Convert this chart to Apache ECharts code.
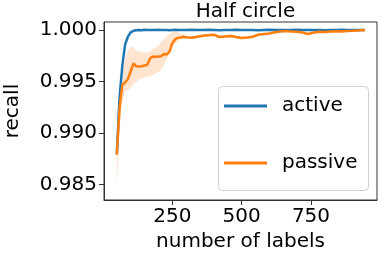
<!DOCTYPE html>
<html><head><meta charset="utf-8">
<script src="https://cdn.jsdelivr.net/npm/echarts@6/dist/echarts.min.js"></script>
<style>html,body{margin:0;padding:0;background:#fff}#c{width:384px;height:255px}</style>
</head><body><div id="c"></div>
<script>
const xs = [50,60,70,80,90,100,110,120,130,140,150,160,170,180,190,200,210,220,230,240,250,260,270,280,290,300,320,340,360,380,400,420,440,460,480,500,520,540,560,580,600,620,640,660,680,700,720,740,760,780,800,820,840,860,880,900,920,945];
const active = [0.9880,0.9935,0.9966,0.9986,0.99935,0.99978,0.99992,0.99997,1.00000,0.99998,1.00002,1.00000,1.00001,0.99999,1.00000,1.00002,0.99999,1.00000,1.00001,0.99998,1.00000,1.00002,1.00000,0.99999,1.00001,1.00000,1.00002,0.99999,1.00000,1.00002,1.00000,0.99998,1.00001,1.00000,1.00002,0.99999,1.00000,1.00001,0.99998,1.00000,1.00002,1.00000,0.99999,1.00001,1.00000,1.00002,1.00000,0.99999,1.00001,1.00000,0.99998,1.00001,1.00000,1.00002,1.00000,0.99999,1.00000,1.00000];
const passive = [0.9879,0.9925,0.9947,0.9949,0.99525,0.9960,0.99677,0.99648,0.99645,0.99648,0.99655,0.99662,0.99725,0.99742,0.99740,0.99742,0.99745,0.99768,0.99762,0.99790,0.99870,0.99910,0.99925,0.99928,0.99935,0.99930,0.99925,0.99935,0.99945,0.99950,0.99955,0.99932,0.99938,0.99942,0.99932,0.99922,0.99928,0.99935,0.99955,0.99962,0.99966,0.99978,0.99985,0.99990,0.99985,0.99982,0.99975,0.99962,0.99975,0.99982,0.99980,0.99985,0.99988,0.99986,0.99990,0.99992,0.99995,1.00000];
const passiveLow = [0.9845,0.9905,0.9930,0.9940,0.9942,0.9944,0.9948,0.9950,0.9952,0.9953,0.9954,0.9955,0.9955,0.9956,0.9958,0.9959,0.9962,0.9966,0.9972,0.9978,0.9983,0.9987,0.9989,0.99905,0.9991,0.99915,0.99912,0.99922,0.99932,0.99938,0.99943,0.99920,0.99926,0.99930,0.99920,0.99910,0.99916,0.99924,0.99944,0.99952,0.99956,0.99968,0.99976,0.99982,0.99977,0.99974,0.99967,0.99954,0.99967,0.99975,0.99973,0.99978,0.99981,0.99980,0.99984,0.99987,0.99990,0.99996];
const passiveHigh = [0.9888,0.9945,0.9962,0.9972,0.9980,0.9984,0.9983,0.9980,0.9979,0.9979,0.9978,0.9978,0.9979,0.9982,0.9983,0.9985,0.9989,0.9991,0.9994,0.9996,0.9998,0.9999,0.99985,0.9996,0.9996,0.99945,0.99938,0.99948,0.99958,0.99962,0.99967,0.99944,0.99950,0.99954,0.99944,0.99934,0.99940,0.99946,0.99966,0.99972,0.99976,0.99988,0.99994,0.99998,0.99993,0.99990,0.99983,0.99970,0.99983,0.99989,0.99987,0.99992,0.99995,0.99992,0.99996,0.99997,1.00000,1.00004];
const yTicks = [0.985,0.990,0.995,1.000];
const xTicks = [250,500,750];

const FONT = 'DejaVu Sans';
const chart = echarts.init(document.getElementById('c'), null, {renderer:'canvas'});
const pair = a => xs.map((x,i)=>[x,a[i]]);
const bandData = xs.map((x,i)=>[x,passiveLow[i],passiveHigh[i]]);
chart.setOption({
  animation:false,
  textStyle:{fontFamily:FONT},
  title:{text:'Half circle',left:240.5,top:-3,textAlign:'center',
    textStyle:{fontFamily:FONT,fontSize:20,fontWeight:'normal',color:'#000'}},
  grid:{left:104,right:7,top:22,bottom:55,show:true,borderColor:'#333',borderWidth:1,
    containLabel:false,outerBoundsMode:'none'},
  graphic:{elements:[{type:'rect',left:218,top:86,z:50,
    shape:{width:150,height:104,r:4},
    style:{fill:'rgba(255,255,255,0.8)',stroke:'#d0d0d0',lineWidth:1}}]},
  legend:{
    data:['active','passive'],orient:'vertical',left:218,top:86,z:60,
    icon:'rect',itemWidth:43,itemHeight:3,itemGap:37,
    padding:[10,4,18,6],
    textStyle:{fontFamily:FONT,fontSize:20,color:'#000',padding:[0,0,0,10]}
  },
  xAxis:{type:'value',min:3.8,max:988,
    name:'number of labels',nameLocation:'middle',nameGap:32,nameMoveOverlap:false,
    nameTextStyle:{fontFamily:FONT,fontSize:20,color:'#000'},
    axisLine:{show:true,lineStyle:{color:'#333'}},
    axisTick:{show:true,length:5,lineStyle:{color:'#333'},customValues:xTicks},
    axisLabel:{customValues:xTicks,fontFamily:FONT,fontSize:20,color:'#000',margin:7},
    splitLine:{show:false}},
  yAxis:{type:'value',min:0.983517,max:1.000776,
    name:'recall',nameLocation:'middle',nameGap:81,nameMoveOverlap:false,
    nameTextStyle:{fontFamily:FONT,fontSize:20,color:'#000'},
    axisLine:{show:true,lineStyle:{color:'#333'}},
    axisTick:{show:true,length:5,lineStyle:{color:'#333'},customValues:yTicks},
    axisLabel:{customValues:yTicks,fontFamily:FONT,fontSize:20,color:'#000',margin:7,
      formatter:v=>v.toFixed(3)},
    splitLine:{show:false}},
  series:[
    {name:'band',type:'custom',data:bandData,silent:true,z:1,clip:true,
     renderItem:(params,api)=>{
       if(params.dataIndex!==0) return null;
       const top = bandData.map(d=>api.coord([d[0],d[2]]));
       const bot = bandData.slice().reverse().map(d=>api.coord([d[0],d[1]]));
       return {type:'polygon',shape:{points:top.concat(bot)},
         style:{fill:'rgba(255,127,14,0.2)',stroke:null}};
     }},
    {name:'active',type:'line',data:pair(active),symbol:'none',
     lineStyle:{color:'#1f77b4',width:2.5},itemStyle:{color:'#1f77b4'},z:2},
    {name:'passive',type:'line',data:pair(passive),symbol:'none',
     lineStyle:{color:'#ff7f0e',width:2.5},itemStyle:{color:'#ff7f0e'},z:3}
  ]
});
</script></body></html>
